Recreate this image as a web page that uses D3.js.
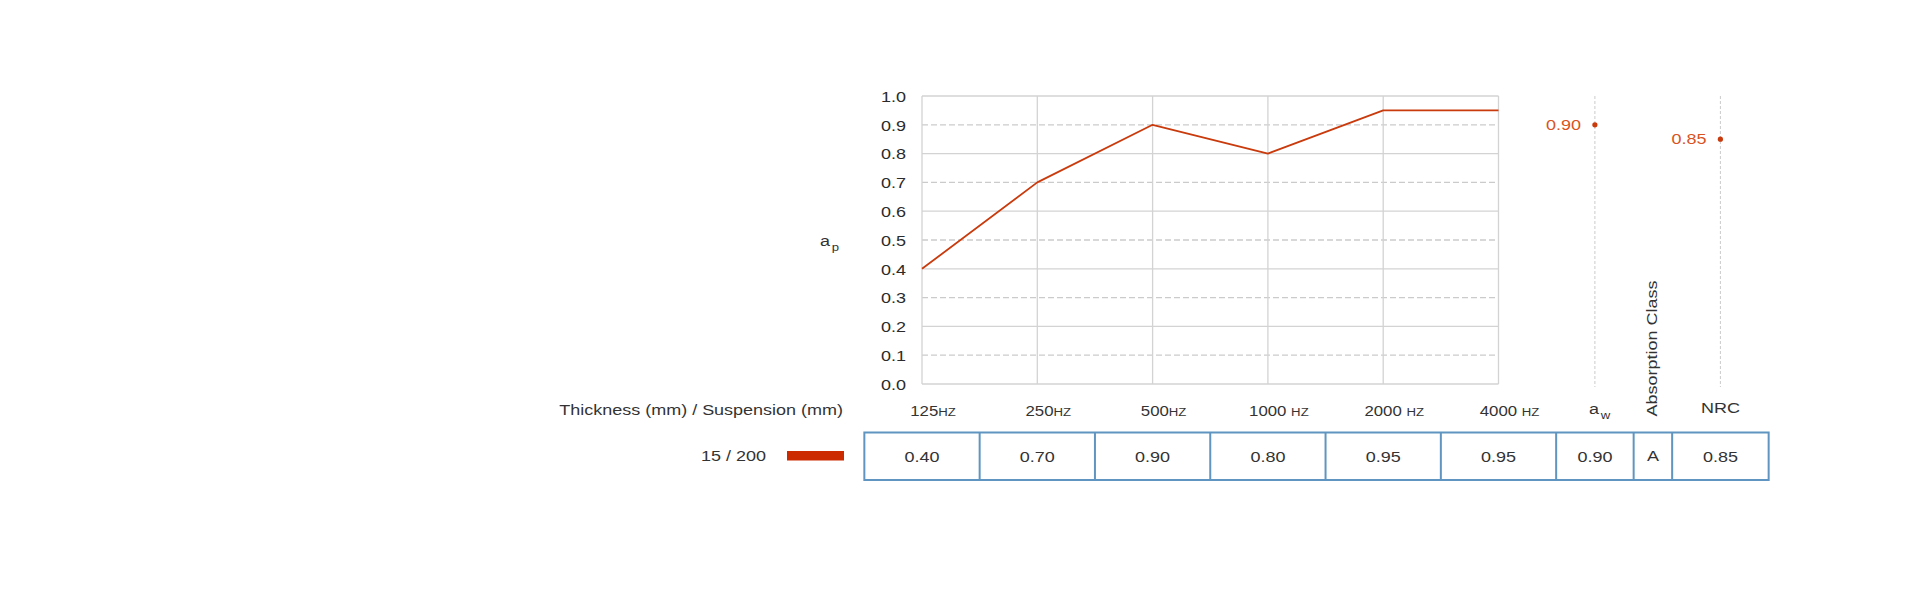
<!DOCTYPE html>
<html>
<head>
<meta charset="utf-8">
<script src="https://cdn.jsdelivr.net/npm/d3@7"></script>
<style>
  html, body { margin: 0; padding: 0; background: #ffffff; }
  svg { display: block; }
  text { font-family: "Liberation Sans", Arial, sans-serif; fill: #333333; }
</style>
</head>
<body>
<svg id="chart" width="1920" height="599"></svg>
<script>
// ---------- data ----------
const frequencies = ["125", "250", "500", "1000", "2000", "4000"];
const frequencyLabels = ["125Hz", "250Hz", "500Hz", "1000 Hz", "2000 Hz", "4000 Hz"];
const alphaP = [0.40, 0.70, 0.90, 0.80, 0.95, 0.95];
const seriesName = "15 / 200";
const alphaW = 0.90;
const absorptionClass = "A";
const nrc = 0.85;
const yTicks = [0.0, 0.1, 0.2, 0.3, 0.4, 0.5, 0.6, 0.7, 0.8, 0.9, 1.0];
const rowHeaderTitle = "Thickness (mm) / Suspension (mm)";
const extraHeaders = ["aw", "Absorption Class", "NRC"];

// ---------- layout ----------
const SX = 1.2;                 // horizontal glyph stretch of the reference
const lineColor = "#c93a0c";
const labelColor = "#d9541e";
const gridColor = "#d3d3d3";
const dashColor = "#cbcbcb";
const tableColor = "#5f95c0";

const svg = d3.select("#chart");
const plotLeft = 922, plotRight = 1498.5, plotTop = 96, plotBottom = 384;

const x = d3.scalePoint().domain(frequencies).range([plotLeft, plotRight]);
const y = d3.scaleLinear().domain([0, 1]).range([plotBottom, plotTop]);
const step = x.step();

function txt(g, px, py, str, size, anchor, color, rot) {
  const t = g.append("text")
    .attr("transform", `translate(${px},${py})` + (rot ? ` rotate(${rot})` : "") + ` scale(${SX},1)`)
    .attr("font-size", size)
    .attr("text-anchor", anchor || "start");
  if (color) t.style("fill", color);
  if (str !== null) t.text(str);
  return t;
}

// ---------- grid ----------
const grid = svg.append("g");
grid.selectAll("line.h").data(yTicks).join("line")
  .attr("x1", plotLeft).attr("x2", plotRight)
  .attr("y1", d => y(d)).attr("y2", d => y(d))
  .attr("stroke", (d, i) => i % 2 === 0 ? gridColor : dashColor)
  .attr("stroke-width", 1.3)
  .attr("stroke-dasharray", (d, i) => i % 2 === 0 ? null : "6,3");
grid.selectAll("line.v").data(frequencies).join("line")
  .attr("x1", d => x(d)).attr("x2", d => x(d))
  .attr("y1", plotTop).attr("y2", plotBottom)
  .attr("stroke", gridColor).attr("stroke-width", 1.3);

// y axis tick labels
const yAxis = d3.axisLeft(y).tickValues(yTicks).tickFormat(d3.format(".1f")).tickSize(0).tickPadding(0);
const yAxisG = svg.append("g").attr("transform", `translate(${plotLeft - 16},0)`).call(yAxis);
yAxisG.select(".domain").remove();
yAxisG.selectAll("text")
  .attr("font-family", null)
  .attr("font-size", 15)
  .attr("x", null)
  .attr("dy", "0.35em")
  .attr("transform", `scale(${SX},1)`)
  .style("fill", "#2b2b2b");

// y axis title a_p
const apT = txt(svg, 820, 246, null, 15, "start");
apT.append("tspan").text("a");
apT.append("tspan").attr("font-size", 11).attr("dx", 1.5).attr("dy", 5).text("p");

// ---------- line ----------
const line = d3.line().x((d, i) => x(frequencies[i])).y(d => y(d));
svg.append("path").datum(alphaP)
  .attr("d", line)
  .attr("fill", "none")
  .attr("stroke", lineColor)
  .attr("stroke-width", 1.8)
  .attr("stroke-linejoin", "round");

// ---------- table columns ----------
const tableLeft = x(frequencies[0]) - step / 2;
const freqRight = x(frequencies[frequencies.length - 1]) + step / 2;
const extraWidths = [77.5, 38.5, 96.5];
const extraEdges = [freqRight];
extraWidths.forEach(w => extraEdges.push(extraEdges[extraEdges.length - 1] + w));
const extraCenters = extraWidths.map((w, i) => extraEdges[i] + w / 2);
const tableTop = 432.5, tableBottom = 480;

// single value columns (aw, NRC) with dashed guides
const singles = [
  { v: alphaW, cx: extraCenters[0] },
  { v: nrc, cx: extraCenters[2] }
];
svg.selectAll("line.guide").data(singles).join("line")
  .attr("x1", d => d.cx).attr("x2", d => d.cx)
  .attr("y1", plotTop).attr("y2", 387)
  .attr("stroke", dashColor).attr("stroke-width", 1)
  .attr("stroke-dasharray", "3,2");
svg.selectAll("circle.single").data(singles).join("circle")
  .attr("cx", d => d.cx).attr("cy", d => y(d.v)).attr("r", 2.6)
  .attr("fill", lineColor);
singles.forEach(d => {
  txt(svg, d.cx - 14, y(d.v) + 5, d3.format(".2f")(d.v), 15, "end", labelColor);
});

// ---------- header row ----------
txt(svg, 843, 415, rowHeaderTitle, 15, "end");
frequencyLabels.forEach((lab, i) => {
  const m = lab.match(/^(\d+)(\s?)(Hz)$/);
  const t = txt(svg, x(frequencies[i]) + 11, 416, null, 14, "middle");
  t.append("tspan").text(m[1] + m[2]);
  t.append("tspan").attr("font-size", 11).text(m[3].toUpperCase());
});
// a_w
const awT = txt(svg, extraCenters[0] - 6, 414, null, 15, "start");
awT.append("tspan").text(extraHeaders[0][0]);
awT.append("tspan").attr("font-size", 11).attr("dx", 1.5).attr("dy", 5).text(extraHeaders[0][1]);
// Absorption Class (rotated)
txt(svg, extraCenters[1] + 4, 416.5, extraHeaders[1], 15, "start", null, -90);
// NRC
txt(svg, extraCenters[2], 413, extraHeaders[2], 15, "middle");

// ---------- data row ----------
txt(svg, 766, 461, seriesName, 15, "end");
svg.append("rect")
  .attr("x", 787).attr("y", 451).attr("width", 57).attr("height", 9.5)
  .attr("fill", "#cc2a00");

const cellEdges = frequencies.map(f => x(f) - step / 2).concat(extraEdges);
const tbl = svg.append("g");
tbl.append("rect")
  .attr("x", tableLeft).attr("y", tableTop)
  .attr("width", extraEdges[extraEdges.length - 1] - tableLeft)
  .attr("height", tableBottom - tableTop)
  .attr("fill", "none").attr("stroke", tableColor).attr("stroke-width", 2);
tbl.selectAll("line.div").data(cellEdges.slice(1, -1)).join("line")
  .attr("x1", d => d).attr("x2", d => d)
  .attr("y1", tableTop).attr("y2", tableBottom)
  .attr("stroke", tableColor).attr("stroke-width", 2);

const f2 = d3.format(".2f");
alphaP.forEach((v, i) => txt(tbl, x(frequencies[i]), 462, f2(v), 15, "middle"));
txt(tbl, extraCenters[0], 462, f2(alphaW), 15, "middle");
txt(tbl, extraCenters[1], 461, absorptionClass, 15, "middle");
txt(tbl, extraCenters[2], 462, f2(nrc), 15, "middle");
</script>
</body>
</html>
